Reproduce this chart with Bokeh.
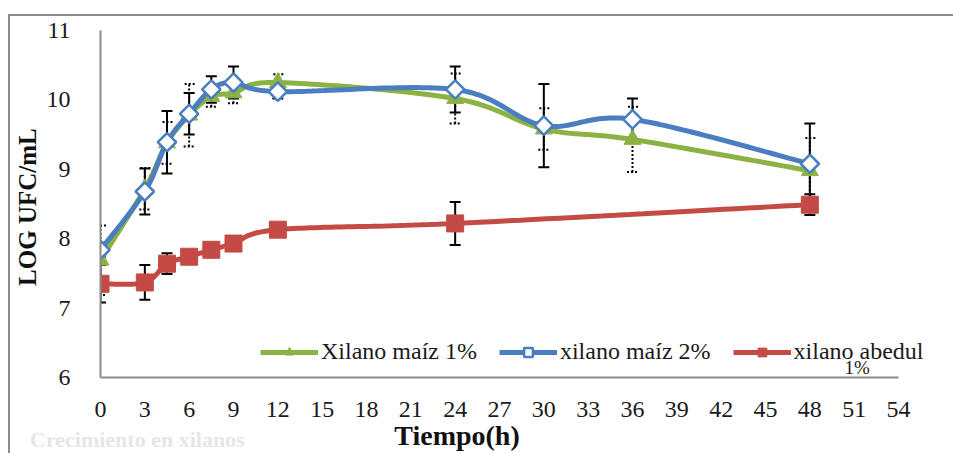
import math
from bokeh.plotting import figure
from bokeh.layouts import column
from bokeh.models import (Range1d, FixedTicker, Whisker, TeeHead, ColumnDataSource,
                          Legend, LegendItem, Label, InlineStyleSheet, Div)
from bokeh.embed import file_html
from bokeh.resources import INLINE

# ---------------- data ----------------
tiempo = [0, 3, 4.5, 6, 7.5, 9, 12, 24, 30, 36, 48]
maiz1 = [7.69, 8.72, 9.38, 9.78, 10.05, 10.10, 10.25, 10.02, 9.58, 9.43, 8.98]
maiz1_err = [0.50, 0.30, 0.30, 0.45, 0.15, 0.15, 0.12, 0.36, 0.30, 0.47, 0.47]
maiz2 = [7.84, 8.68, 9.39, 9.80, 10.15, 10.25, 10.12, 10.15, 9.63, 9.72, 9.08]
maiz2_err = [0.10, 0.33, 0.45, 0.30, 0.19, 0.23, 0.10, 0.33, 0.60, 0.30, 0.58]
tiempo_abedul = [0, 3, 4.5, 6, 7.5, 9, 12, 24, 48]
abedul = [7.35, 7.37, 7.64, 7.74, 7.84, 7.93, 8.13, 8.22, 8.49]
abedul_err = [0.27, 0.25, 0.15, 0.05, 0.05, 0.05, 0.05, 0.31, 0.15]

x_ticks = list(range(0, 55, 3))
y_ticks = [6, 7, 8, 9, 10, 11]

series_names = ["Xilano maíz 1%", "xilano maíz 2%", "xilano abedul"]
x_title = "Tiempo(h)"
y_title = "LOG  UFC/mL"
caption_text = "Crecimiento en xilanos"
green = "#8DB244"
blue = "#4A7EC0"
red = "#C44A45"
FONT = "Liberation Serif"

# ---------------- figure ----------------
W, H = 953, 453
ML, MR, MT, MB = 100, 0, 30, 76
AXIS_END_PX = 898          # pixel where the axis (value 54) ends
x_end = 54.0 * (W - MR - ML) / (AXIS_END_PX - ML)

p = figure(width=W, height=H, output_backend="svg", toolbar_location=None,
           x_range=Range1d(0, x_end), y_range=Range1d(6, 11),
           min_border_left=ML, min_border_right=MR, min_border_top=MT, min_border_bottom=MB)
p.outline_line_color = None
p.xgrid.visible = False
p.ygrid.visible = False
p.background_fill_color = "white"
p.border_fill_color = "white"
p.stylesheets = [InlineStyleSheet(css=(
    ":host::after{content:'';position:absolute;left:8px;top:14px;width:980px;height:480px;"
    "border-left:2px solid #8C8C8C;border-top:2px solid #8C8C8C;pointer-events:none;z-index:10;}"))]

for ax in (p.xaxis[0], p.yaxis[0]):
    ax.axis_line_color = "#8A8A8A"
    ax.axis_line_width = 2
    ax.major_tick_line_color = None
    ax.minor_tick_line_color = None
    ax.major_label_text_font = FONT
    ax.major_label_text_font_size = "24px"
    ax.major_label_text_color = "#1a1a1a"
    ax.axis_label_text_font = FONT
    ax.axis_label_text_font_style = "bold"
    ax.axis_label_text_color = "#111111"

p.xaxis[0].bounds = (0, 54)
p.xaxis[0].ticker = FixedTicker(ticks=x_ticks)
p.yaxis[0].ticker = FixedTicker(ticks=y_ticks)
p.xaxis[0].major_label_standoff = 18
p.yaxis[0].major_label_standoff = 24
p.yaxis[0].axis_label = y_title
p.yaxis[0].axis_label_text_font_size = "25px"
p.yaxis[0].axis_label_standoff = 3
# the original title sits left of the frame centre: pad it with no-break spaces
p.xaxis[0].axis_label = x_title + "\u00a0" * 20
p.xaxis[0].axis_label_text_font_size = "28px"
p.xaxis[0].axis_label_standoff = 0

# ---------------- smoothing (Excel-like) ----------------
fw = W - ML - MR
fh = H - MT - MB
sx = fw / x_end
sy = fh / 5.0


def smooth(xs, ys, n=30):
    P = [(x * sx, y * sy) for x, y in zip(xs, ys)]
    ox, oy = [], []
    for i in range(len(P) - 1):
        p0 = P[i - 1] if i > 0 else P[i]
        p1 = P[i]
        p2 = P[i + 1]
        p3 = P[i + 2] if i + 2 < len(P) else P[i + 1]
        c1 = (p1[0] + (p2[0] - p0[0]) / 6.0, p1[1] + (p2[1] - p0[1]) / 6.0)
        c2 = (p2[0] - (p3[0] - p1[0]) / 6.0, p2[1] - (p3[1] - p1[1]) / 6.0)
        for k in range(n):
            t = k / n
            a = (1 - t) ** 3
            b = 3 * (1 - t) ** 2 * t
            c = 3 * (1 - t) * t ** 2
            d = t ** 3
            ox.append((a * p1[0] + b * c1[0] + c * c2[0] + d * p2[0]) / sx)
            oy.append((a * p1[1] + b * c1[1] + c * c2[1] + d * p2[1]) / sy)
    ox.append(P[-1][0] / sx)
    oy.append(P[-1][1] / sy)
    return ox, oy


# ---------------- error bars ----------------
def add_err(xs, ys, es, dash):
    src = ColumnDataSource(dict(x=xs, lo=[y - e for y, e in zip(ys, es)],
                                hi=[y + e for y, e in zip(ys, es)]))
    w = Whisker(base="x", lower="lo", upper="hi", source=src,
                line_color="black", line_width=2, line_dash=dash,
                upper_head=TeeHead(size=11, line_width=2, line_color="black", line_dash=dash),
                lower_head=TeeHead(size=11, line_width=2, line_color="black", line_dash=dash),
                level="underlay")
    p.add_layout(w)


add_err(tiempo, maiz1, maiz1_err, "2 2")
add_err(tiempo, maiz2, maiz2_err, "solid")
add_err(tiempo_abedul, abedul, abedul_err, "solid")

# ---------------- series ----------------
gx, gy = smooth(tiempo, maiz1)
g_line = p.line(gx, gy, line_color=green, line_width=5)
g_mark = p.scatter(tiempo, maiz1, marker="triangle", size=17, fill_color=green, line_color=green)

bx, by = smooth(tiempo, maiz2)
b_line = p.line(bx, by, line_color=blue, line_width=5)
b_mark = p.scatter(tiempo, maiz2, marker="square", angle=math.pi / 4, size=13,
                   fill_color="white", line_color=blue, line_width=2.5)

rx, ry = smooth(tiempo_abedul, abedul)
r_line = p.line(rx, ry, line_color=red, line_width=5)
r_mark = p.scatter(tiempo_abedul, abedul, marker="square", size=17, fill_color=red, line_color=red)

legend = Legend(items=[LegendItem(label=series_names[0], renderers=[g_line, g_mark]),
                       LegendItem(label=series_names[1], renderers=[b_line, b_mark]),
                       LegendItem(label=series_names[2], renderers=[r_line, r_mark])],
                orientation="horizontal", location=(160, 12),
                glyph_width=58, glyph_height=22, label_standoff=3, spacing=22,
                padding=0, margin=0, border_line_color=None, background_fill_alpha=0,
                label_text_font=FONT, label_text_font_size="24px", label_text_color="#1a1a1a")
p.add_layout(legend, "center")

# wrapped end of the last legend entry, kept just inside the plot area
p.add_layout(Label(x=51.2, y=6.0, text="1%", text_font=FONT, text_font_size="19px",
                   text_align="center", text_baseline="bottom", text_color="#1a1a1a"))

# faded caption at the bottom-left, laid over the figure
caption = Div(text=caption_text, styles={
    "position": "absolute", "left": "25px", "top": "419px", "z-index": "20",
    "color": "#E6E6E6", "font-family": FONT, "font-weight": "bold",
    "font-size": "22px", "white-space": "nowrap", "pointer-events": "none"})

page = column(p, caption, spacing=0)
open("out.html", "w").write(file_html(page, INLINE))
